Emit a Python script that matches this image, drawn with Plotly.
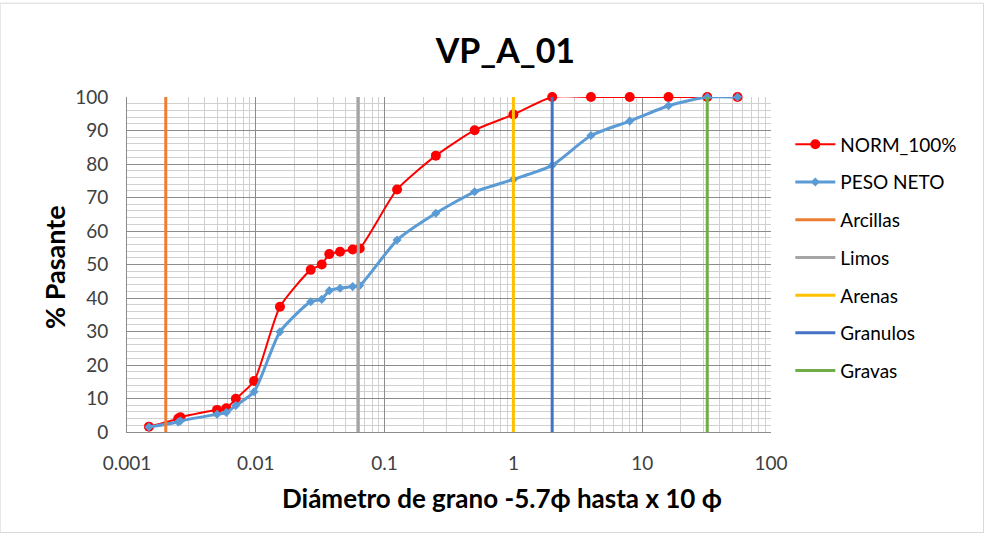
import plotly.graph_objects as go

# Data
norm_x = [0.00148, 0.0025, 0.0026, 0.005, 0.0059, 0.0070, 0.0097, 0.0154, 0.0267, 0.0325,
          0.0372, 0.0451, 0.0565, 0.064, 0.125, 0.25, 0.5, 1.0, 2.0, 4.0, 8.0, 16.0, 32.0, 55.0]
norm_y = [1.6, 4.0, 4.4, 6.6, 7.1, 9.9, 15.2, 37.4, 48.4, 50.0,
          53.1, 53.8, 54.5, 54.8, 72.4, 82.5, 90.1, 94.8, 100, 100, 100, 100, 100, 100]

peso_x = norm_x
peso_y = [1.5, 3.0, 3.3, 5.3, 5.8, 7.9, 12.0, 29.9, 38.9, 39.6,
          42.2, 42.9, 43.4, 43.7, 57.3, 65.3, 71.7, 75.4, 79.6, 88.5, 92.8, 97.4, 100, 100]

class_names = ["Arcillas", "Limos", "Arenas", "Granulos", "Gravas"]
class_x = [0.002, 0.0625, 1.0, 2.0, 32.0]
class_colors = ["#ED7D31", "#A5A5A5", "#FFC000", "#4472C4", "#70AD47"]

x_tick_vals = [0.001, 0.01, 0.1, 1, 10, 100]
x_tick_text = ["0.001", "0.01", "0.1", "1", "10", "100"]
y_tick_vals = list(range(0, 101, 10))

FONT = "Lato"

fig = go.Figure()
fig.add_trace(go.Scatter(x=norm_x, y=norm_y, mode="lines+markers", name="NORM_100%",
                         legendgroup="g1", cliponaxis=False,
                         line=dict(color="#FF0000", width=2, shape="spline", smoothing=0.6),
                         marker=dict(color="#FF0000", size=10, symbol="circle")))
fig.add_trace(go.Scatter(x=peso_x, y=peso_y, mode="lines+markers", name="PESO NETO",
                         legendgroup="g2", cliponaxis=False,
                         line=dict(color="#5B9BD5", width=3, shape="spline", smoothing=0.6),
                         marker=dict(color="#5B9BD5", size=7, symbol="diamond")))
for i, (nm, xv, c) in enumerate(zip(class_names, class_x, class_colors)):
    fig.add_trace(go.Scatter(x=[xv, xv], y=[0, 100], mode="lines", name=nm,
                             legendgroup="c%d" % i,
                             line=dict(color=c, width=3)))

fig.update_layout(
    width=989, height=534,
    margin=dict(l=127, r=218, t=97, b=102),
    paper_bgcolor="white", plot_bgcolor="white",
    font=dict(family=FONT, color="#404040", size=18),
    title=dict(text="<b>VP_A_01</b>", x=0.511, xanchor="center", y=0.905, yanchor="middle",
               font=dict(family=FONT, size=34, color="black")),
    showlegend=True,
    legend=dict(x=1.03, xanchor="left", y=0.915, yanchor="top",
                font=dict(family=FONT, size=19, color="black"),
                tracegroupgap=10, itemwidth=40, bgcolor="rgba(0,0,0,0)"),
    xaxis=dict(type="log", range=[-3, 2], tickvals=x_tick_vals, ticktext=x_tick_text,
               showgrid=True, gridcolor="#8C8C8C", gridwidth=1,
               minor=dict(showgrid=True, gridcolor="#D0D0D0", gridwidth=1, dtick="D1"),
               showline=True, linecolor="#8C8C8C", mirror=False, ticks="",
               ticklabelstandoff=14,
               tickfont=dict(size=19, color="#404040"), zeroline=False),
    yaxis=dict(range=[0, 100], tickvals=y_tick_vals, showgrid=True, gridcolor="#8C8C8C",
               gridwidth=1, minor=dict(showgrid=True, gridcolor="#D0D0D0", dtick=2),
               showline=True, linecolor="#8C8C8C", ticks="", zeroline=False,
               ticklabelstandoff=14,
               tickfont=dict(size=19, color="#404040")),
)
# axis titles (positioned as in the reference)
fig.add_annotation(text="<b>Diámetro de grano -5.7ϕ hasta x 10 ϕ</b>", xref="paper", yref="paper",
                   x=(502 - 127) / 644, y=-(498 - 432) / 335, xanchor="center", yanchor="middle",
                   showarrow=False, font=dict(family=FONT, size=26, color="black"))
fig.add_annotation(text="<b>% Pasante</b>", xref="paper", yref="paper", textangle=-90,
                   x=-(127 - 54) / 644, y=(432 - 267) / 335, xanchor="center", yanchor="middle",
                   showarrow=False, font=dict(family=FONT, size=27, color="black"))
fig.add_shape(type="rect", xref="paper", yref="paper", x0=-0.197, x1=1.33, y0=-0.3, y1=1.28,
              line=dict(color="#D9D9D9", width=1), layer="below")

fig.write_html("out.html")
